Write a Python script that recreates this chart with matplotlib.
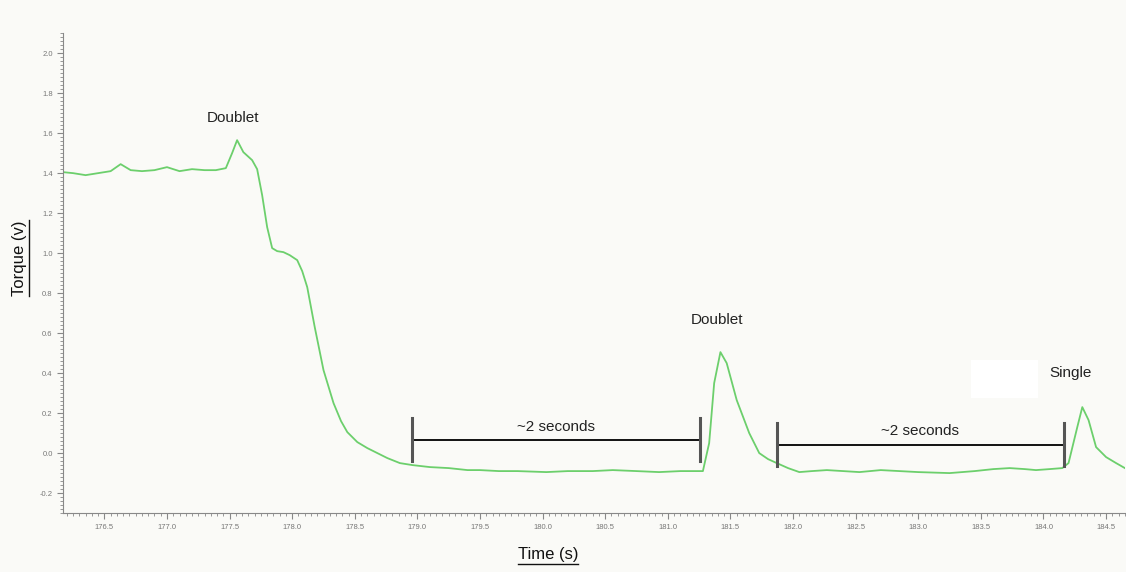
import numpy as np
import matplotlib
matplotlib.use("Agg")
import matplotlib.pyplot as plt
from matplotlib.lines import Line2D
from matplotlib.patches import Rectangle
from matplotlib.ticker import MultipleLocator, FormatStrFormatter

# torque trace (time in s, torque in v)
time_s = [176.17, 176.25, 176.35, 176.45, 176.55, 176.63, 176.71, 176.80, 176.90,
          177.00, 177.10, 177.20, 177.30, 177.39, 177.47, 177.52, 177.56, 177.61,
          177.68, 177.72, 177.76, 177.80, 177.84, 177.88, 177.93, 177.98, 178.04,
          178.08, 178.12, 178.18, 178.25, 178.33, 178.39, 178.44, 178.52, 178.60,
          178.68, 178.76, 178.86, 178.96, 179.10, 179.25, 179.40, 179.50, 179.65,
          179.80, 180.03, 180.20, 180.40, 180.56, 180.75, 180.93, 181.10, 181.28,
          181.33, 181.37, 181.42, 181.47, 181.55, 181.65, 181.73, 181.80, 181.87,
          181.96, 182.05, 182.15, 182.27, 182.40, 182.53, 182.70, 182.85, 183.00,
          183.25, 183.45, 183.60, 183.73, 183.85, 183.94, 184.05, 184.15, 184.20,
          184.27, 184.31, 184.36, 184.42, 184.50, 184.58, 184.65]
torque_v = [1.405, 1.400, 1.390, 1.400, 1.410, 1.445, 1.415, 1.410, 1.415,
            1.430, 1.410, 1.420, 1.415, 1.415, 1.425, 1.500, 1.565, 1.505,
            1.465, 1.420, 1.290, 1.130, 1.025, 1.010, 1.005, 0.990, 0.965,
            0.910, 0.830, 0.630, 0.415, 0.250, 0.160, 0.105, 0.055, 0.025,
            0.000, -0.025, -0.050, -0.060, -0.070, -0.075, -0.085, -0.085, -0.090,
            -0.090, -0.095, -0.090, -0.090, -0.085, -0.090, -0.095, -0.090, -0.090,
            0.050, 0.350, 0.505, 0.450, 0.265, 0.100, 0.000, -0.030, -0.050,
            -0.075, -0.095, -0.090, -0.085, -0.090, -0.095, -0.085, -0.090, -0.095,
            -0.100, -0.090, -0.080, -0.075, -0.080, -0.085, -0.080, -0.075, -0.050,
            0.130, 0.230, 0.165, 0.030, -0.020, -0.050, -0.075]

# peak labels
peak_labels = ["Doublet", "Doublet", "Single"]
peak_x = [177.53, 181.39, 184.22]
peak_y = [1.675, 0.665, 0.40]

# "~2 seconds" brackets: start, end, height
bracket_start = [178.96, 181.87]
bracket_end = [181.26, 184.16]
bracket_y = [0.065, 0.040]
bracket_label = ["~2 seconds", "~2 seconds"]

bg = "#fafaf7"
plt.rcParams["font.family"] = ["Liberation Sans", "DejaVu Sans"]

fig = plt.figure(figsize=(11.26, 5.72), dpi=100, facecolor=bg)
ax = fig.add_axes([0.056, 0.103, 0.943, 0.839], facecolor=bg)

ax.plot(time_s, torque_v, color="#6ccf6c", lw=1.3)

for lab, x, y in zip(peak_labels, peak_x, peak_y):
    ax.text(x, y, lab, ha="center", va="center", fontsize=11, color="#222222")

for x0, x1, y, lab in zip(bracket_start, bracket_end, bracket_y, bracket_label):
    ax.plot([x0, x1], [y, y], color="#111111", lw=1.4)
    for xc in (x0, x1):
        ax.plot([xc, xc], [y - 0.105, y + 0.11], color="#555555", lw=2.2)
    ax.text((x0 + x1) / 2, y + 0.068, lab, ha="center", va="center",
            fontsize=11, color="#222222")

# white patch left of "Single"
ax.add_patch(Rectangle((183.42, 0.275), 0.54, 0.19, facecolor="white",
                       edgecolor="none", zorder=0))

ax.set_xlim(176.17, 184.65)
ax.set_ylim(-0.3, 2.1)
ax.xaxis.set_major_locator(MultipleLocator(0.5))
ax.xaxis.set_minor_locator(MultipleLocator(0.05))
ax.yaxis.set_major_locator(MultipleLocator(0.2))
ax.yaxis.set_minor_locator(MultipleLocator(0.02))
ax.xaxis.set_major_formatter(FormatStrFormatter("%.1f"))
ax.yaxis.set_major_formatter(FormatStrFormatter("%.1f"))
ax.tick_params(which="both", direction="out", colors="#888888",
               labelsize=5.5, labelcolor="#777777")
ax.tick_params(which="major", length=4, width=0.8)
ax.tick_params(which="minor", length=2, width=0.6)
for side in ("top", "right"):
    ax.spines[side].set_visible(False)
for side in ("left", "bottom"):
    ax.spines[side].set_color("#888888")

# axis titles, underlined
ylab = fig.text(20 / 1126, 1 - 258 / 572, "Torque (v)", rotation=90,
                ha="center", va="center", fontsize=12, color="#111111")
xlab = fig.text(548 / 1126, 1 - 555 / 572, "Time (s)", ha="center",
                va="center", fontsize=12, color="#111111")
fig.canvas.draw()
W, H = fig.bbox.width, fig.bbox.height
bb = xlab.get_window_extent()
fig.add_artist(Line2D([bb.x0 / W, bb.x1 / W], [(bb.y0 - 1) / H] * 2,
                      color="#111111", lw=1.0))
bb = ylab.get_window_extent()
fig.add_artist(Line2D([(bb.x1 + 1) / W] * 2, [bb.y0 / H, bb.y1 / H],
                      color="#111111", lw=1.0))

fig.savefig("out.png", dpi=100, facecolor=bg)
